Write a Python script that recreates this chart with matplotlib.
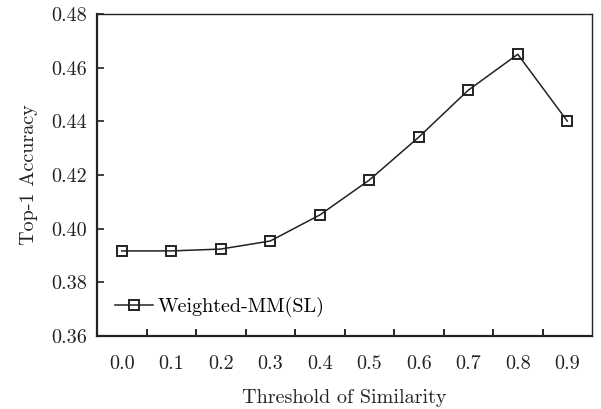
import matplotlib
matplotlib.use("Agg")
import matplotlib.pyplot as plt
import numpy as np

plt.rcParams["font.family"] = ["cmr10", "DejaVu Serif"]
plt.rcParams["axes.formatter.use_mathtext"] = True

thresholds = ["0.0", "0.1", "0.2", "0.3", "0.4", "0.5", "0.6", "0.7", "0.8", "0.9"]
accuracy = [0.3917, 0.3917, 0.3924, 0.3954, 0.4051, 0.4181, 0.4341, 0.4516, 0.4650, 0.4401]
y_ticks = [0.36, 0.38, 0.40, 0.42, 0.44, 0.46, 0.48]

fs = 14.5
fig = plt.figure(figsize=(6.01, 4.09), dpi=100)
ax = fig.add_axes([97 / 601, 1 - 336 / 409, 495 / 601, 322 / 409])

x = np.arange(len(thresholds))
ax.plot(x, accuracy, color="#222222", lw=1.1, marker="s", ms=7.5,
        mfc="none", mec="#222222", mew=1.4, label="Weighted-MM(SL)")

ax.set_xlim(-0.5, len(thresholds) - 0.5)
ax.set_ylim(0.36, 0.48)
ax.set_yticks(y_ticks)
ax.set_yticklabels([f"{v:.2f}" for v in y_ticks])
ax.set_xticks(x)
ax.set_xticklabels(thresholds)
ax.tick_params(axis="x", which="major", length=0, pad=14)
ax.set_xticks(np.arange(0.5, len(thresholds) - 1, 1.0), minor=True)
ax.tick_params(axis="x", which="minor", direction="in", length=5, width=1.2, top=False)
ax.tick_params(axis="y", direction="in", length=5, width=1.2, right=False, pad=7)
ax.tick_params(labelsize=fs, colors="#222222")

for s in ["left", "bottom"]:
    ax.spines[s].set_linewidth(1.6)
for s in ["top", "right"]:
    ax.spines[s].set_linewidth(1.0)
for s in ax.spines.values():
    s.set_color("#222222")

ax.set_xlabel("Threshold of Similarity", fontsize=fs, labelpad=11, color="#222222")
ax.set_ylabel("Top-1 Accuracy", fontsize=fs, labelpad=10, color="#222222")

ax.legend(loc="lower left", frameon=False, fontsize=fs, handlelength=1.9,
          handletextpad=0.2, borderaxespad=0.0, bbox_to_anchor=(0.02, 0.035))

fig.savefig("out.png", dpi=100)
